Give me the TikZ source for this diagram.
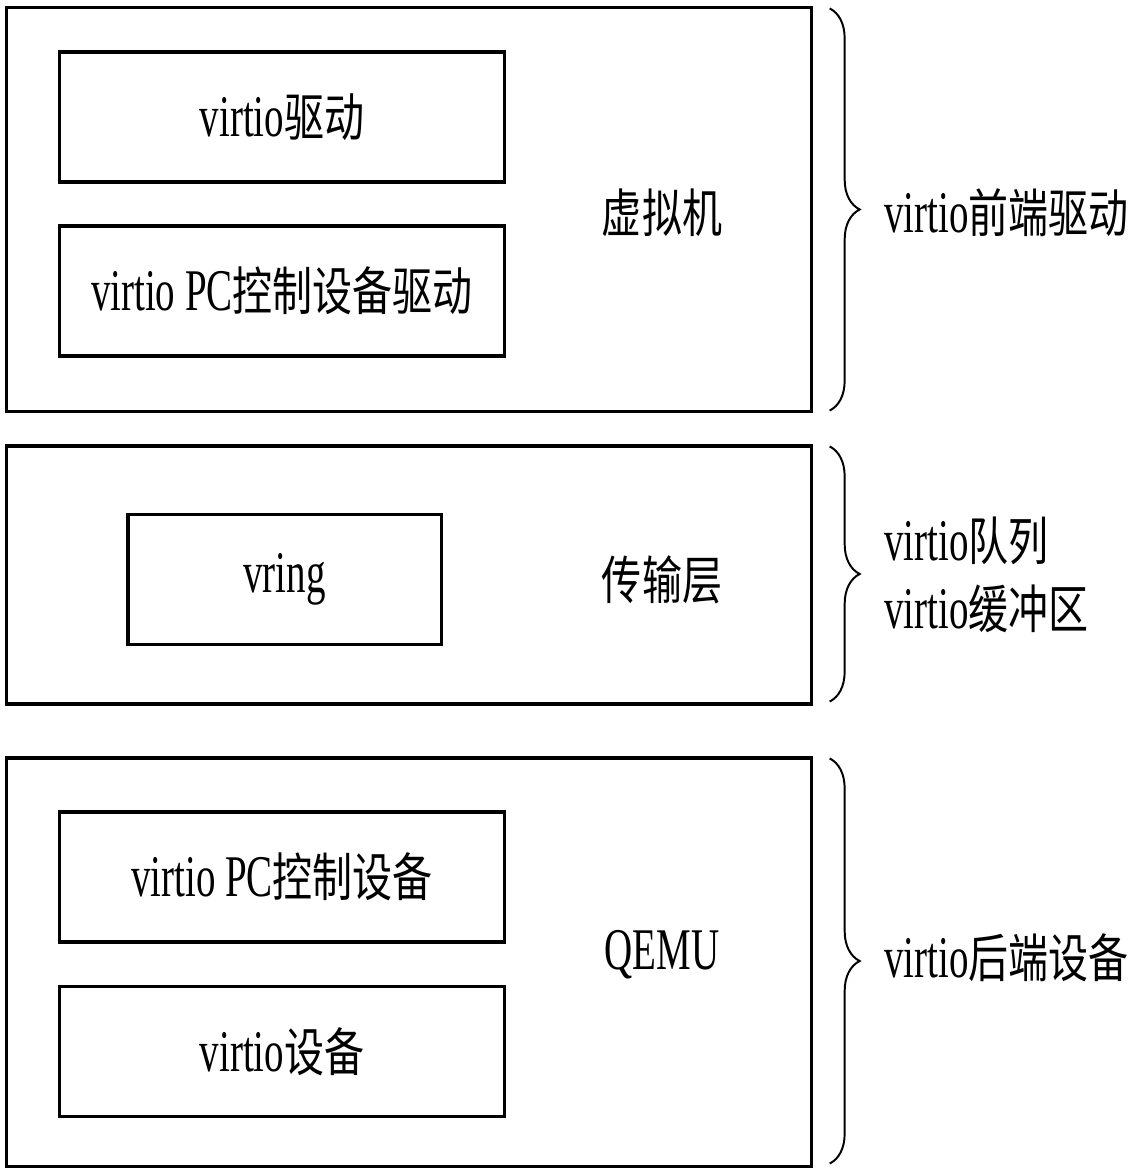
\documentclass[tikz,border=0pt]{standalone}
\usepackage{fontspec}
\setmainfont{Liberation Serif}[FakeStretch=0.66]
\newfontfamily\cjk{Noto Sans CJK SC}[FakeStretch=0.77,Scale=0.88]
\usetikzlibrary{positioning,decorations.pathreplacing}

\begin{document}
\begin{tikzpicture}[
            x=0.025cm, y=-0.025cm,
            outer/.style={draw, line width=2.2pt, minimum width=20.1cm, inner sep=0pt},
            inner/.style={draw, line width=2.2pt, minimum width=11.1cm, minimum height=3.25cm, inner sep=0pt},
            txt/.style={font=\fontsize{42}{52}\selectfont, inner sep=0pt},
            brace/.style={decorate, decoration={brace, amplitude=0.75cm}, line width=1.4pt},
            lbl/.style={txt, anchor=west, align=left}
            ]
            \useasboundingbox (0,0) rectangle (1130,1174);

            % drei Schichten
            \node (vm) [outer, minimum height=10.075cm] at (409,209.5) {};
            \node (tl) [outer, minimum height=6.45cm] at (409,575) {};
            \node (qemu) [outer, minimum height=10.2cm] at (409,962) {};

            \node (drv) [inner, txt] at (282,117) {virtio{\cjk 驱动}};
            \node (pcdrv) [inner, txt] at (282,291) {virtio PC{\cjk 控制设备驱动}};
            \node (vring) [inner, txt, minimum width=7.825cm] at (284.5,579.5) {vring};
            \node (pcdev) [inner, txt] at (282,877) {virtio PC{\cjk 控制设备}};
            \node (dev) [inner, txt] at (282,1051.5) {virtio{\cjk 设备}};

            \node (vmname) [txt] at (662,213) {\cjk 虚拟机};
            \node (tlname) [txt] at (662,580) {\cjk 传输层};
            \node (qemuname) [txt] at (662,955) {QEMU};

            % Klammern
            \draw[brace] ([xshift=0.425cm,yshift=-0.05cm]vm.north east) -- ([xshift=0.425cm,yshift=0.05cm]vm.south east);
            \draw[brace] ([xshift=0.425cm,yshift=-0.05cm]tl.north east) -- ([xshift=0.425cm,yshift=0.1cm]tl.south east);
            \draw[brace] ([xshift=0.425cm,yshift=-0.05cm]qemu.north east) -- ([xshift=0.425cm,yshift=0.1cm]qemu.south east);

            \node (front) [lbl] at (884,213) {virtio{\cjk 前端驱动}};
            \node (queue) [lbl] at (884,575) {virtio{\cjk 队列}\\[-4pt]virtio{\cjk 缓冲区}};
            \node (back) [lbl] at (884,958) {virtio{\cjk 后端设备}};

      \end{tikzpicture}
\end{document}
